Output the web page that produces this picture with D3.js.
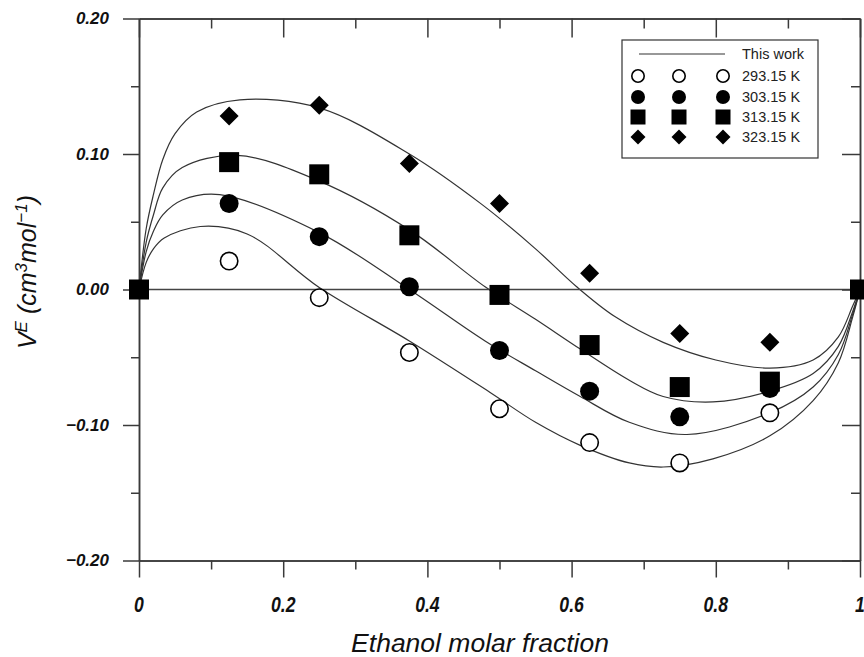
<!DOCTYPE html>
<html>
<head>
<meta charset="utf-8">
<script src="https://cdn.jsdelivr.net/npm/d3@7"></script>
<style>
body { margin: 0; background: #fff; }
svg { display: block; font-family: "Liberation Sans", Arial, sans-serif; }
</style>
</head>
<body>
<svg id="chart" width="864" height="657"></svg>
<script>
// measured points
const moleFraction = [0, 0.125, 0.25, 0.375, 0.5, 0.625, 0.75, 0.875, 1];
const ve293 = [0, 0.021, -0.006, -0.0465, -0.088, -0.113, -0.128, -0.091, 0];
const ve303 = [0, 0.0635, 0.039, 0.002, -0.045, -0.075, -0.094, -0.073, 0];
const ve313 = [0, 0.094, 0.085, 0.040, -0.004, -0.041, -0.072, -0.068, 0];
const ve323 = [0, 0.128, 0.136, 0.093, 0.0635, 0.012, -0.0325, -0.039, 0];

// fitted curves ("This work")
const fit293 = [[0,0],[0.01,0.02],[0.02,0.03],[0.035,0.038],[0.085,0.0465],[0.15,0.041],[0.25,0.0015],[0.375,-0.038],[0.487,-0.076],[0.55,-0.098],[0.612,-0.115],[0.68,-0.128],[0.727,-0.131],[0.796,-0.125],[0.875,-0.108],[0.935,-0.082],[0.97,-0.054],[0.99,-0.02],[1,0]];
const fit303 = [[0,0],[0.01,0.028],[0.02,0.043],[0.033,0.055],[0.06,0.066],[0.112,0.070],[0.25,0.042],[0.375,0.000],[0.48,-0.038],[0.55,-0.060],[0.612,-0.079],[0.68,-0.098],[0.76,-0.107],[0.875,-0.091],[0.935,-0.072],[0.97,-0.048],[0.99,-0.018],[1,0]];
const fit313 = [[0,0],[0.01,0.035],[0.02,0.055],[0.033,0.075],[0.06,0.090],[0.136,0.099],[0.25,0.080],[0.375,0.044],[0.48,0.002],[0.55,-0.022],[0.612,-0.044],[0.68,-0.067],[0.727,-0.079],[0.796,-0.083],[0.875,-0.075],[0.935,-0.062],[0.97,-0.042],[0.99,-0.016],[1,0]];
const fit323 = [[0,0],[0.01,0.045],[0.02,0.07],[0.033,0.096],[0.05,0.115],[0.08,0.131],[0.14,0.140],[0.25,0.134],[0.375,0.100],[0.475,0.063],[0.55,0.030],[0.607,0.002],[0.66,-0.020],[0.727,-0.039],[0.8,-0.052],[0.875,-0.058],[0.935,-0.052],[0.97,-0.035],[0.99,-0.012],[1,0]];

const seriesLabels = ["293.15 K", "303.15 K", "313.15 K", "323.15 K"];
const xMajor = [0, 0.2, 0.4, 0.6, 0.8, 1];
const xMinor = [0.1, 0.3, 0.5, 0.7, 0.9];
const xTickLabels = ["0", "0.2", "0.4", "0.6", "0.8", "1"];
const yMajor = [-0.2, -0.1, 0, 0.1, 0.2];
const yMinor = [-0.15, -0.05, 0.05, 0.15];
const yTickLabels = ["\u22120.20", "\u22120.10", "0.00", "0.10", "0.20"];

const svg = d3.select("#chart");
const plotLeft = 139, plotRight = 860, plotTop = 18.5, plotBottom = 560.5;
const axisColor = "#3a3a3a";

const x = d3.scaleLinear().domain([0, 1]).range([plotLeft, plotRight]);
const y = d3.scaleLinear().domain([-0.2, 0.2]).range([plotBottom, plotTop]);

function styleAxis(g) {
    g.attr("font-family", null).attr("font-size", null);
    g.select(".domain").attr("stroke", axisColor).attr("stroke-width", 1.5);
    g.selectAll(".tick line").attr("stroke", axisColor).attr("stroke-width", 1.5);
}

// curves
const line = d3.line()
    .x(d => x(d[0]))
    .y(d => y(d[1]))
    .curve(d3.curveCatmullRom.alpha(0.5));

svg.append("g")
    .selectAll("path")
    .data([fit293, fit303, fit313, fit323])
    .join("path")
    .attr("d", line)
    .attr("fill", "none")
    .attr("stroke", "#333")
    .attr("stroke-width", 1.2);

// zero line
svg.append("line")
    .attr("x1", x(0)).attr("x2", x(1))
    .attr("y1", y(0)).attr("y2", y(0))
    .attr("stroke", "#444")
    .attr("stroke-width", 1.5);

// axes
svg.append("g").attr("transform", `translate(${plotLeft},0)`)
    .call(d3.axisLeft(y).tickValues(yMinor).tickSize(8).tickSizeOuter(0).tickFormat(""))
    .call(styleAxis);
svg.append("g").attr("transform", `translate(${plotLeft},0)`)
    .call(d3.axisLeft(y).tickValues(yMajor).tickSize(16).tickSizeOuter(0).tickPadding(14)
        .tickFormat((d, i) => yTickLabels[i]))
    .call(styleAxis)
    .selectAll("text")
    .attr("font-size", 17)
    .attr("font-weight", "bold")
    .attr("font-style", "italic")
    .attr("fill", "#111");

svg.append("g").attr("transform", `translate(${plotRight},0)`)
    .call(d3.axisRight(y).tickValues(yMinor).tickSize(-9).tickSizeOuter(0).tickFormat(""))
    .call(styleAxis);
svg.append("g").attr("transform", `translate(${plotRight},0)`)
    .call(d3.axisRight(y).tickValues(yMajor).tickSize(-18).tickSizeOuter(0).tickFormat(""))
    .call(styleAxis);

svg.append("g").attr("transform", `translate(0,${plotBottom})`)
    .call(d3.axisBottom(x).tickValues(xMinor).tickSize(9).tickSizeOuter(0).tickFormat(""))
    .call(styleAxis);
svg.append("g").attr("transform", `translate(0,${plotBottom})`)
    .call(d3.axisBottom(x).tickValues(xMajor).tickSize(17).tickSizeOuter(0).tickFormat(""))
    .call(styleAxis);

svg.append("g").attr("transform", `translate(0,${plotTop})`)
    .call(d3.axisTop(x).tickValues(xMinor).tickSize(-10).tickSizeOuter(0).tickFormat(""))
    .call(styleAxis);
svg.append("g").attr("transform", `translate(0,${plotTop})`)
    .call(d3.axisTop(x).tickValues(xMajor).tickSize(-19).tickSizeOuter(0).tickFormat(""))
    .call(styleAxis);

// bottom tick labels (narrow, tall)
svg.append("g")
    .selectAll("text")
    .data(xMajor)
    .join("text")
    .attr("transform", d => `translate(${x(d)},612) scale(0.8,1)`)
    .attr("text-anchor", "middle")
    .attr("font-size", 22)
    .attr("font-weight", "bold")
    .attr("font-style", "italic")
    .attr("fill", "#111")
    .text((d, i) => xTickLabels[i]);

// axis titles
svg.append("text")
    .attr("x", 480).attr("y", 652)
    .attr("text-anchor", "middle")
    .attr("font-size", 26.5)
    .attr("font-style", "italic")
    .attr("fill", "#111")
    .text("Ethanol molar fraction");

const yTitle = svg.append("text")
    .attr("transform", "translate(36,272) rotate(-90)")
    .attr("text-anchor", "middle")
    .attr("font-size", 25)
    .attr("font-style", "italic")
    .attr("fill", "#111");
yTitle.append("tspan").text("V");
yTitle.append("tspan").attr("dy", -9).attr("font-size", 17).text("E");
yTitle.append("tspan").attr("dy", 9).text(" (cm");
yTitle.append("tspan").attr("dy", -9).attr("font-size", 17).text("3");
yTitle.append("tspan").attr("dy", 9).text("mol");
yTitle.append("tspan").attr("dy", -9).attr("font-size", 17).text("\u22121");
yTitle.append("tspan").attr("dy", 9).text(")");

// markers
function marker(g, type, cx, cy, s) {
    if (type === "open") {
        g.append("circle").attr("cx", cx).attr("cy", cy).attr("r", s / 2 - 0.8)
            .attr("fill", "#fff").attr("stroke", "#000").attr("stroke-width", 1.6);
    } else if (type === "circle") {
        g.append("circle").attr("cx", cx).attr("cy", cy).attr("r", s / 2).attr("fill", "#000");
    } else if (type === "square") {
        g.append("rect").attr("x", cx - s / 2).attr("y", cy - s / 2)
            .attr("width", s).attr("height", s).attr("fill", "#000");
    } else {
        const h = s / 2;
        g.append("path")
            .attr("d", `M${cx},${cy - h}L${cx + h},${cy}L${cx},${cy + h}L${cx - h},${cy}Z`)
            .attr("fill", "#000");
    }
}

const markerTypes = ["open", "circle", "square", "diamond"];
const markerSizes = [19, 19, 20, 19];
const pointGroup = svg.append("g");
[ve293, ve303, ve313, ve323].forEach((vals, k) => {
    vals.forEach((v, i) => marker(pointGroup, markerTypes[k], x(moleFraction[i]), y(v), markerSizes[k]));
});

// legend
const legend = svg.append("g");
legend.append("rect")
    .attr("x", 622).attr("y", 40).attr("width", 196).attr("height", 118)
    .attr("fill", "#fff").attr("stroke", "#333").attr("stroke-width", 1.2);
legend.append("line")
    .attr("x1", 639).attr("x2", 725).attr("y1", 54).attr("y2", 54)
    .attr("stroke", "#333").attr("stroke-width", 1.2);
legend.append("text")
    .attr("x", 742).attr("y", 59)
    .attr("font-size", 14.5).attr("fill", "#222")
    .text("This work");

const legendRows = [76, 97, 117, 137];
const legendCols = [638, 679, 723];
const legendSizes = [14, 14, 15, 15];
seriesLabels.forEach((label, k) => {
    legendCols.forEach(cx => marker(legend, markerTypes[k], cx, legendRows[k], legendSizes[k]));
    legend.append("text")
        .attr("x", 742).attr("y", legendRows[k] + 5)
        .attr("font-size", 14.5).attr("fill", "#222")
        .text(label);
});
</script>
</body>
</html>
